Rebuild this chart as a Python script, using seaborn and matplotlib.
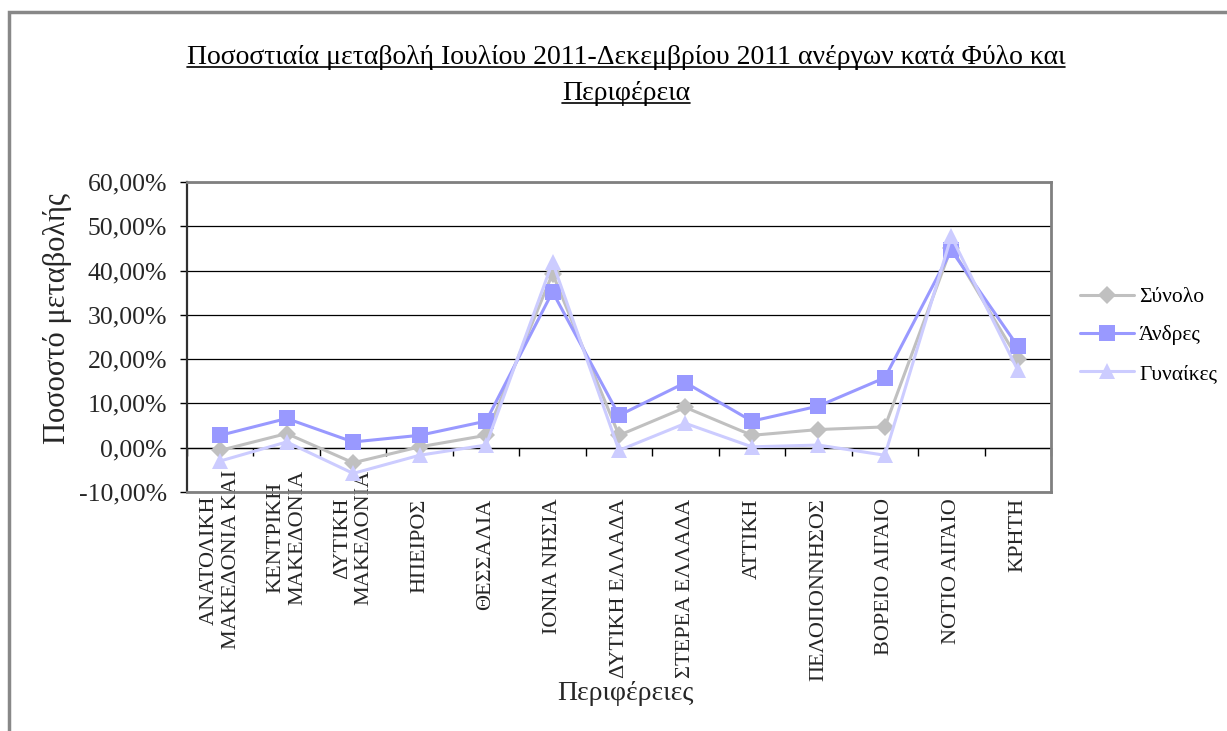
import numpy as np
import pandas as pd
import matplotlib
matplotlib.use("Agg")
import matplotlib.pyplot as plt
import seaborn as sns
from matplotlib.transforms import ScaledTranslation
from matplotlib.ticker import FuncFormatter, FixedLocator
from matplotlib.patches import Rectangle
from matplotlib.lines import Line2D

# ---------------- data ----------------
categories = [
    "ΑΝΑΤΟΛΙΚΗ\nΜΑΚΕΔΟΝΙΑ ΚΑΙ",
    "ΚΕΝΤΡΙΚΗ\nΜΑΚΕΔΟΝΙΑ",
    "ΔΥΤΙΚΗ\nΜΑΚΕΔΟΝΙΑ",
    "ΗΠΕΙΡΟΣ",
    "ΘΕΣΣΑΛΙΑ",
    "ΙΟΝΙΑ ΝΗΣΙΑ",
    "ΔΥΤΙΚΗ ΕΛΛΑΔΑ",
    "ΣΤΕΡΕΑ ΕΛΛΑΔΑ",
    "ΑΤΤΙΚΗ",
    "ΠΕΛΟΠΟΝΝΗΣΟΣ",
    "ΒΟΡΕΙΟ ΑΙΓΑΙΟ",
    "ΝΟΤΙΟ ΑΙΓΑΙΟ",
    "ΚΡΗΤΗ",
]
synolo   = [-0.006, 0.032, -0.034, 0.002, 0.028, 0.393, 0.028, 0.091, 0.028, 0.041, 0.047, 0.452, 0.201]
andres   = [0.028, 0.066, 0.013, 0.028, 0.060, 0.352, 0.073, 0.147, 0.060, 0.094, 0.158, 0.446, 0.229]
gynaikes = [-0.030, 0.013, -0.058, -0.017, 0.006, 0.419, -0.006, 0.055, 0.002, 0.006, -0.017, 0.477, 0.175]

series_names = ["Σύνολο", "Άνδρες", "Γυναίκες"]
series_values = [synolo, andres, gynaikes]
colors = ["#C0C0C0", "#9999FF", "#CCCCFF"]
markers = ["D", "s", "^"]
msizes = [9, 11.5, 12]

title_lines = ["Ποσοστιαία μεταβολή Ιουλίου 2011-Δεκεμβρίου 2011 ανέργων κατά Φύλο και",
               "Περιφέρεια"]
ylabel = "Ποσοστό μεταβολής"
xlabel = "Περιφέρειες"
ymin, ymax = -0.10, 0.60
yticks = [-0.10, 0.0, 0.10, 0.20, 0.30, 0.40, 0.50, 0.60]

# ---------------- style ----------------
sns.set_theme(style="white")
plt.rcParams["font.family"] = ["Liberation Serif", "DejaVu Serif"]
plt.rcParams["text.color"] = "black"

W, H, DPI = 1227, 731, 100
fig = plt.figure(figsize=(W / DPI, H / DPI), dpi=DPI)
fig.patch.set_facecolor("white")

L, R, T, B = 187, 1051, 182, 492
ax = fig.add_axes([L / W, 1 - B / H, (R - L) / W, (B - T) / H])

rows = []
for name, vals in zip(series_names, series_values):
    for i, v in enumerate(vals):
        rows.append({"idx": i, "value": v, "series": name})
df = pd.DataFrame(rows)

for name, col, mk, ms in zip(series_names, colors, markers, msizes):
    sns.lineplot(data=df[df["series"] == name], x="idx", y="value", ax=ax,
                 color=col, marker=mk, markersize=ms, markeredgewidth=0,
                 linewidth=2.2, label=name, sort=False, errorbar=None)

ax.set_xlim(-0.5, len(categories) - 0.5)
ax.set_ylim(ymin, ymax)

# y axis
ax.yaxis.set_major_locator(FixedLocator(yticks))
ax.yaxis.set_major_formatter(FuncFormatter(lambda v, p: f"{v*100:.2f}%".replace(".", ",")))
ax.tick_params(axis="y", which="major", direction="out", length=5, width=1,
               color="black", pad=9.4, labelsize=18.5, left=True)
ax.grid(axis="y", color="black", linewidth=0.9)
ax.grid(axis="x", visible=False)
ax.set_axisbelow(True)

# x axis labels
ax.set_xticks(np.arange(len(categories)), labels=categories)
ax.tick_params(axis="x", length=0, pad=4.5, labelsize=16)
for lab in ax.get_xticklabels():
    lab.set_rotation(90)
    lab.set_va("top")
    lab.set_ha("center")
    lab.set_multialignment("center")
    if "\n" in lab.get_text():
        lab.set_transform(lab.get_transform() + ScaledTranslation(0, 28 / DPI, fig.dpi_scale_trans))

# secondary axis at zero with category separators
zero_pos = (0 - ymin) / (ymax - ymin)
sec = ax.secondary_xaxis(zero_pos)
sec.set_xticks(np.arange(-0.5, len(categories) + 0.5, 1.0))
sec.set_xticklabels([])
sec.tick_params(axis="x", direction="out", length=6, width=1, color="black")
sec.spines["bottom"].set_color("black")
sec.spines["bottom"].set_linewidth(0.9)

# spines
for s in ["top", "right", "bottom"]:
    ax.spines[s].set_color("#808080")
    ax.spines[s].set_linewidth(2)
ax.spines["left"].set_color("#303030")
ax.spines["left"].set_linewidth(1.6)

# labels
ax.set_ylabel(ylabel, fontsize=22)
ax.yaxis.label.set_va("center")
ax.yaxis.set_label_coords((57 - L) / (R - L), (B - 319) / (B - T))
ax.set_xlabel(xlabel, fontsize=20)
ax.xaxis.label.set_va("center")
ax.xaxis.set_label_coords((625 - L) / (R - L), (B - 693) / (B - T))

# legend
handles, labels = ax.get_legend_handles_labels()
leg = ax.legend(handles, labels, loc="upper left",
                bbox_to_anchor=(1080 / W, 1 - 287 / H), bbox_transform=fig.transFigure,
                frameon=False, fontsize=15.5, handlelength=2.5, handletextpad=0.25,
                labelspacing=0.85, borderpad=0, borderaxespad=0)

# outer chart border (left & top visible)
fig.add_artist(Rectangle((9 / W, -0.2), 1.5, 1.2 - 12 / H, transform=fig.transFigure,
                         fill=False, edgecolor="#888888", linewidth=2.5))

# title with underline
t_objs = []
for line, base in zip(title_lines, [64, 100]):
    t = fig.text(626 / W, 1 - base / H, line, ha="center", va="baseline", fontsize=20)
    t_objs.append((t, base))
fig.canvas.draw()
r = fig.canvas.get_renderer()
for t, base in t_objs:
    bb = t.get_window_extent(r)
    yy = 1 - (base + 3) / H
    fig.add_artist(Line2D([bb.x0 / W, bb.x1 / W], [yy, yy], transform=fig.transFigure,
                          color="black", linewidth=1.2))

fig.savefig("out.png", dpi=DPI)
